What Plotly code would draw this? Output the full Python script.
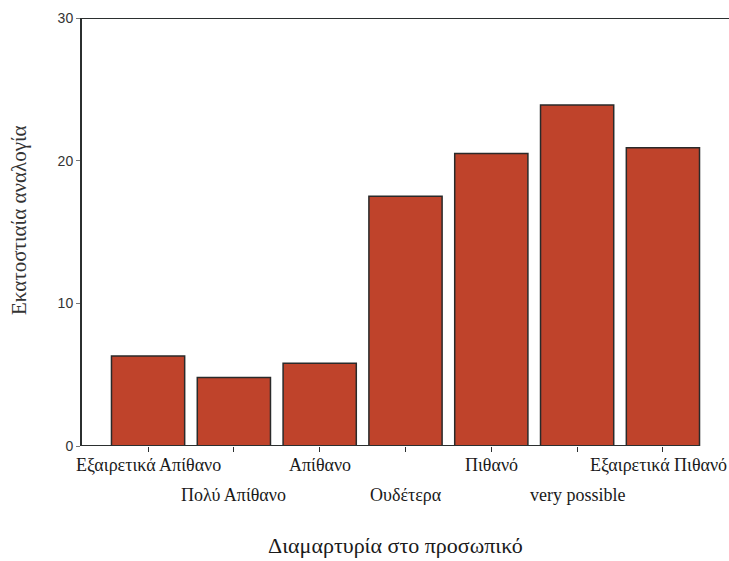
import plotly.graph_objects as go

categories = ["Εξαιρετικά Απίθανο", "Πολύ Απίθανο", "Απίθανο", "Ουδέτερα",
              "Πιθανό", "very possible", "Εξαιρετικά Πιθανό"]
percent = [6.3, 4.8, 5.8, 17.5, 20.5, 23.9, 20.9]
y_ticks = [0, 10, 20, 30]

x_title = "Διαμαρτυρία στο προσωπικό"
y_title = "Εκατοστιαία αναλογία"

serif = "Liberation Serif, Times New Roman, serif"
ink = "#2b2f2f"

positions = list(range(len(categories)))

fig = go.Figure(go.Bar(
    x=positions,
    y=percent,
    marker=dict(color="#bf432b", line=dict(color="#2a2a2a", width=1.5)),
    width=0.853,
))

# staggered category labels, like the original
for i, name in enumerate(categories):
    last = i == len(categories) - 1
    fig.add_annotation(
        x=1 if last else i, y=0, xref="paper" if last else "x", yref="paper",
        xanchor="right" if last else "center",
        text=name, showarrow=False,
        yanchor="middle", yshift=-19 if i % 2 == 0 else -49,
        font=dict(family=serif, size=18, color="#1a1a1a"),
    )

fig.add_annotation(
    x=0.485, y=-0.232, xref="paper", yref="paper",
    text=x_title, showarrow=False, yanchor="middle",
    font=dict(family=serif, size=22, color="#1a1a1a"),
)
fig.add_annotation(
    x=0, y=0.528, xref="paper", yref="paper", xshift=-63,
    text=y_title, showarrow=False, textangle=-90,
    xanchor="center", yanchor="middle",
    font=dict(family=serif, size=21, color="#333"),
)

# frame: top rule across, bottom rule up to last bar
fig.add_shape(type="line", xref="paper", yref="y", x0=0, x1=1, y0=30, y1=30,
              line=dict(color=ink, width=2))
fig.add_shape(type="line", xref="paper", yref="y", x0=0, x1=0.955, y0=0, y1=0,
              line=dict(color=ink, width=2))

fig.update_layout(
    width=729,
    height=561,
    paper_bgcolor="white",
    plot_bgcolor="white",
    margin=dict(l=82, r=0, t=18, b=115),
    showlegend=False,
    xaxis=dict(
        range=[-0.77, 6.77],
        tickvals=positions,
        ticktext=[""] * len(positions),
        ticks="outside", ticklen=5, tickcolor=ink, tickwidth=1,
        showgrid=False, zeroline=False, showline=False,
    ),
    yaxis=dict(
        range=[0, 30],
        tickvals=y_ticks,
        ticks="outside", ticklen=4, tickcolor="#777", tickwidth=1,
        tickfont=dict(family="Liberation Sans, Arial, sans-serif", size=14, color="#333"),
        showgrid=False, zeroline=False,
        showline=True, linecolor=ink, linewidth=2,
    ),
)

fig.write_html("out.html", config={"displayModeBar": False},
               post_script="document.body.style.margin='0';")
